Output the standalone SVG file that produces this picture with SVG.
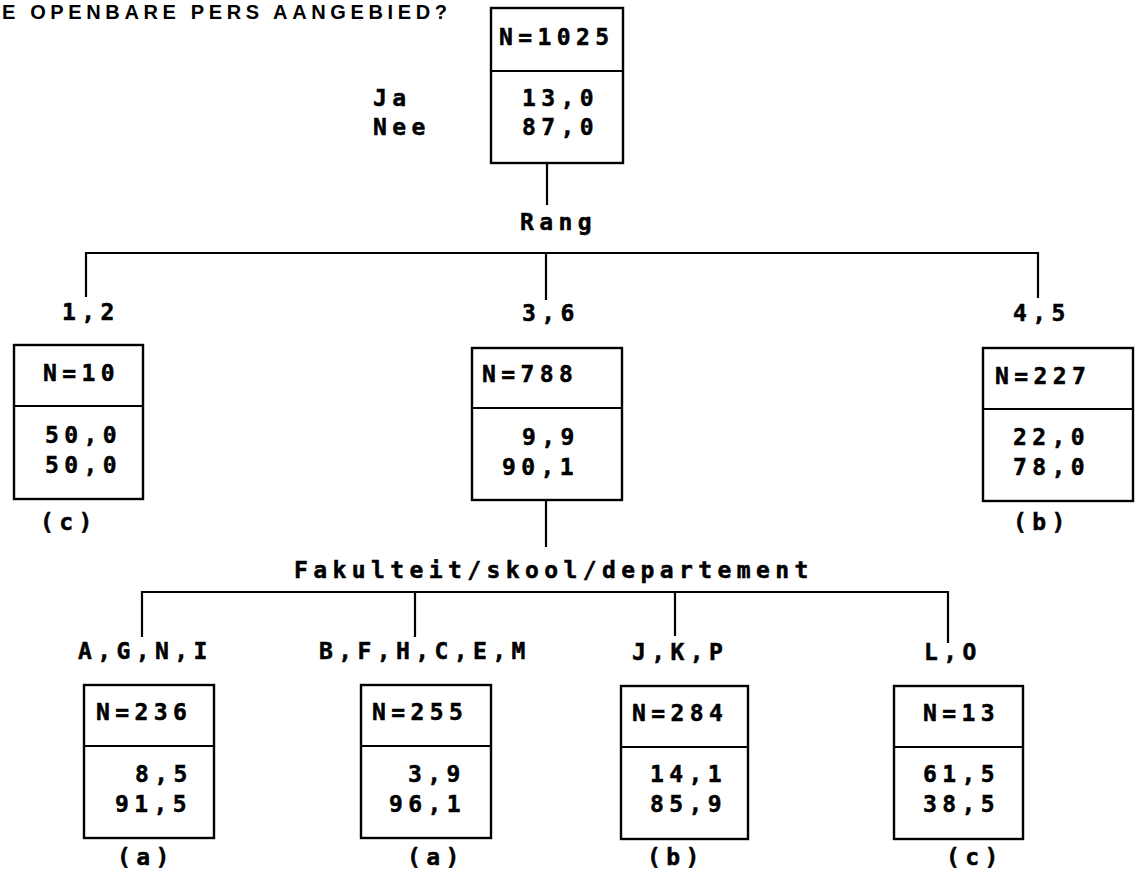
<svg xmlns="http://www.w3.org/2000/svg" width="1140" height="879" viewBox="0 0 1140 879">
<style>
.t{font-family:"DejaVu Sans Mono","Liberation Mono",monospace;font-weight:bold;font-size:23px;letter-spacing:5.4px;fill:#000;stroke:#000;stroke-width:0.5}
.h{font-family:"Liberation Sans",Arial,sans-serif;font-weight:bold;font-size:20px;fill:#000}
.b{fill:#fff;stroke:#000;stroke-width:2.4}
.c{fill:none;stroke:#000;stroke-width:2.2}
</style>
<rect width="1140" height="879" fill="#fff"/>
<text class="h" x="2" y="19" textLength="445" lengthAdjust="spacing">E OPENBARE PERS AANGEBIED?</text>

<g id="connectors">
<path class="c" d="M547 163 V205"/>
<path class="c" d="M86 297 V253 H1038 V298"/>
<path class="c" d="M546 253 V300"/>
<path class="c" d="M546 500 V547"/>
<path class="c" d="M142 637 V592 H948 V643"/>
<path class="c" d="M415 592 V637"/>
<path class="c" d="M675 592 V636"/>
</g>

<g id="labels">
<text class="t" x="373" y="106">Ja</text>
<text class="t" x="373" y="135">Nee</text>
<text class="t" x="520" y="230">Rang</text>
<text class="t" x="62" y="320">1,2</text>
<text class="t" x="522" y="321">3,6</text>
<text class="t" x="1013" y="321">4,5</text>
<text class="t" x="294" y="578">Fakulteit/skool/departement</text>
<text class="t" x="78" y="659">A,G,N,I</text>
<text class="t" x="319" y="659">B,F,H,C,E,M</text>
<text class="t" x="632" y="660">J,K,P</text>
<text class="t" x="924" y="660">L,O</text>
</g>

<g id="node-root">
<rect class="b" x="491" y="8" width="132" height="155"/>
<line class="c" x1="491" y1="71" x2="623" y2="71"/>
<text class="t" x="499" y="45">N=1025</text>
<text class="t" x="522" y="106">13,0</text>
<text class="t" x="522" y="135">87,0</text>
</g>

<g id="node-12">
<rect class="b" x="14" y="345" width="129" height="154"/>
<line class="c" x1="14" y1="406" x2="143" y2="406"/>
<text class="t" x="43" y="381">N=10</text>
<text class="t" x="45" y="443">50,0</text>
<text class="t" x="45" y="473">50,0</text>
<text class="t" x="40" y="530">(c)</text>
</g>

<g id="node-36">
<rect class="b" x="472" y="348" width="150" height="152"/>
<line class="c" x1="472" y1="408" x2="622" y2="408"/>
<text class="t" x="482" y="382">N=788</text>
<text class="t" x="522" y="445">9,9</text>
<text class="t" x="502" y="475">90,1</text>
</g>

<g id="node-45">
<rect class="b" x="983" y="348" width="150" height="153"/>
<line class="c" x1="983" y1="409" x2="1133" y2="409"/>
<text class="t" x="995" y="384">N=227</text>
<text class="t" x="1013" y="445">22,0</text>
<text class="t" x="1013" y="475">78,0</text>
<text class="t" x="1013" y="530">(b)</text>
</g>

<g id="node-agni">
<rect class="b" x="84" y="685" width="130" height="153"/>
<line class="c" x1="84" y1="746" x2="214" y2="746"/>
<text class="t" x="96" y="720">N=236</text>
<text class="t" x="135" y="782">8,5</text>
<text class="t" x="115" y="812">91,5</text>
<text class="t" x="117" y="865">(a)</text>
</g>

<g id="node-bfhcem">
<rect class="b" x="361" y="685" width="130" height="153"/>
<line class="c" x1="361" y1="746" x2="491" y2="746"/>
<text class="t" x="372" y="720">N=255</text>
<text class="t" x="408" y="782">3,9</text>
<text class="t" x="389" y="812">96,1</text>
<text class="t" x="407" y="865">(a)</text>
</g>

<g id="node-jkp">
<rect class="b" x="621" y="686" width="127" height="153"/>
<line class="c" x1="621" y1="747" x2="748" y2="747"/>
<text class="t" x="632" y="721">N=284</text>
<text class="t" x="650" y="782">14,1</text>
<text class="t" x="650" y="812">85,9</text>
<text class="t" x="647" y="865">(b)</text>
</g>

<g id="node-lo">
<rect class="b" x="894" y="686" width="129" height="153"/>
<line class="c" x1="894" y1="747" x2="1023" y2="747"/>
<text class="t" x="923" y="721">N=13</text>
<text class="t" x="923" y="782">61,5</text>
<text class="t" x="923" y="812">38,5</text>
<text class="t" x="946" y="865">(c)</text>
</g>
</svg>
